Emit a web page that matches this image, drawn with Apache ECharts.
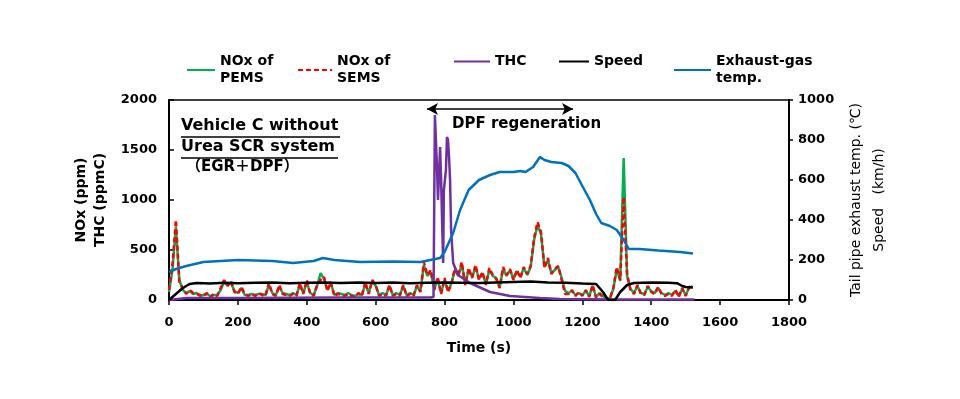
<!DOCTYPE html>
<html>
<head>
<meta charset="utf-8">
<script src="https://cdn.jsdelivr.net/npm/echarts@6/dist/echarts.min.js"></script>
<style>
  html, body { margin: 0; padding: 0; background: #fff; }
  #chart { width: 960px; height: 399px; }
</style>
</head>
<body>
<div id="chart"></div>
<script>
// NOx sampled every 10 s (0 .. 1520 s)
const noxTime = Array.from({ length: 153 }, (_, i) => i * 10);
const noxPems = [
  80, 300, 730, 200, 100, 70, 90, 60, 70, 40,
  50, 60, 40, 50, 50, 100, 180, 150, 170, 90,
  70, 120, 50, 50, 60, 50, 60, 60, 50, 150,
  70, 50, 130, 70, 60, 50, 70, 50, 150, 70,
  180, 70, 50, 140, 270, 210, 100, 170, 50, 70,
  60, 50, 70, 50, 40, 60, 50, 160, 70, 190,
  140, 50, 70, 50, 140, 50, 70, 50, 140, 50,
  70, 50, 140, 90, 350, 240, 280, 110, 210, 70,
  200, 90, 170, 300, 240, 360, 160, 300, 230, 330,
  210, 270, 160, 300, 240, 220, 130, 310, 240, 300,
  210, 290, 230, 320, 250, 330, 600, 750, 660, 330,
  400, 270, 300, 330, 220, 90, 70, 90, 50, 70,
  50, 90, 40, 140, 30, 70, 40, 10, 20, 110,
  310, 190, 1420, 240, 110, 70, 140, 70, 60, 130,
  90, 70, 120, 70, 50, 70, 50, 90, 40, 110,
  50, 120, 140
];
const noxSems = [
  100, 350, 800, 180, 120, 60, 100, 70, 60, 50,
  40, 70, 30, 60, 40, 120, 200, 140, 190, 80,
  60, 130, 60, 40, 60, 40, 70, 50, 40, 170,
  60, 40, 150, 60, 50, 40, 60, 40, 170, 60,
  200, 60, 40, 150, 200, 230, 90, 180, 40, 60,
  50, 40, 60, 40, 30, 70, 40, 180, 60, 200,
  150, 40, 60, 40, 150, 40, 60, 40, 150, 40,
  60, 40, 150, 80, 380, 250, 300, 100, 230, 60,
  220, 80, 160, 320, 250, 380, 150, 320, 220, 350,
  200, 280, 150, 320, 250, 210, 120, 330, 250, 310,
  200, 300, 220, 330, 260, 340, 620, 780, 680, 320,
  420, 260, 310, 340, 200, 60, 60, 100, 40, 80,
  40, 100, 30, 150, 20, 60, 30, 0, 10, 120,
  330, 200, 1030, 250, 100, 60, 150, 60, 50, 140,
  80, 60, 130, 60, 40, 60, 40, 100, 30, 120,
  40, 130, 150
];

// THC (ppmC)
const thcTime = [0, 50, 200, 500, 760, 768, 772, 778, 781, 787, 790, 793, 796, 798, 804, 807, 810, 813, 816, 819, 825, 839, 874, 932, 990, 1077, 1135, 1300, 1525];
const thcVal = [0, 20, 20, 25, 25, 30, 1850, 1330, 1000, 1530, 1200, 770, 370, 1100, 1300, 1630, 1600, 1430, 1200, 700, 370, 250, 170, 80, 40, 20, 10, 5, 5];

// Speed (km/h), right axis
const speedTime = [0, 20, 40, 60, 80, 120, 160, 200, 250, 300, 350, 400, 450, 500, 550, 600, 650, 700, 750, 800, 850, 900, 950, 1000, 1050, 1100, 1150, 1200, 1240, 1260, 1275, 1295, 1310, 1330, 1350, 1400, 1450, 1475, 1490, 1500, 1521];
const speedVal = [0, 30, 60, 80, 85, 83, 86, 84, 86, 88, 84, 86, 88, 85, 87, 85, 87, 84, 86, 88, 86, 85, 88, 90, 92, 88, 86, 82, 80, 40, 0, 0, 40, 75, 85, 88, 86, 84, 70, 65, 62];

// Exhaust-gas temperature (degC), right axis
const tempTime = [0, 20, 50, 100, 200, 250, 300, 360, 420, 447, 480, 555, 650, 730, 787, 800, 825, 845, 870, 900, 932, 960, 1000, 1020, 1035, 1057, 1077, 1090, 1110, 1140, 1160, 1180, 1200, 1222, 1240, 1255, 1280, 1300, 1320, 1335, 1367, 1420, 1484, 1521];
const tempVal = [140, 155, 170, 190, 200, 198, 195, 185, 195, 210, 200, 190, 192, 190, 210, 240, 335, 450, 550, 600, 625, 640, 640, 645, 640, 665, 715, 700, 690, 685, 670, 635, 570, 500, 430, 385, 370, 350, 300, 255, 255, 248, 240, 233];

const pairs = (xs, ys) => xs.map((x, i) => [x, ys[i]]);

const FONT = 'DejaVu Sans, Noto Sans CJK JP, sans-serif';
const chart = echarts.init(document.getElementById('chart'));

// one legend per item so each sits where the original puts it
const legendAt = (name, left, width) => ({
  data: [name],
  left: left,
  top: 53,
  itemWidth: width,
  itemHeight: 14,
  itemGap: 0,
  padding: 0,
  selectedMode: false,
  itemStyle: { opacity: 0, borderWidth: 0 },
  textStyle: { fontFamily: FONT, fontWeight: 'bold', fontSize: 14, color: '#000', lineHeight: 17 }
});

const plain = v => String(v);

const option = {
  animation: false,
  backgroundColor: '#fff',
  grid: { left: 169, right: 171, top: 100, bottom: 99, show: true, borderColor: '#000', borderWidth: 1.5, backgroundColor: 'transparent' },
  legend: [
    legendAt('NOx of\nPEMS', 186, 28),
    legendAt('NOx of\nSEMS', 297, 34),
    legendAt('THC', 453, 36),
    legendAt('Speed', 558, 30),
    legendAt('Exhaust-gas\ntemp.', 673, 37)
  ],
  xAxis: {
    type: 'value', min: 0, max: 1800, interval: 200,
    name: 'Time (s)', nameLocation: 'middle', nameGap: 41,
    nameTextStyle: { fontFamily: FONT, fontWeight: 'bold', fontSize: 14, color: '#000' },
    axisLine: { lineStyle: { color: '#000', width: 2 } },
    axisTick: { show: true, inside: false, length: 5, lineStyle: { color: '#000', width: 1.5 } },
    axisLabel: { fontFamily: FONT, fontWeight: 'bold', fontSize: 13, color: '#000', margin: 16, formatter: plain },
    splitLine: { show: false }
  },
  yAxis: [
    {
      type: 'value', min: 0, max: 2000, interval: 500, position: 'left',
      name: 'NOx (ppm)\nTHC (ppmC)', nameLocation: 'middle', nameGap: 39,
      nameTextStyle: { fontFamily: FONT, fontWeight: 'bold', fontSize: 14, color: '#000', lineHeight: 19 },
      axisLine: { show: true, lineStyle: { color: '#000', width: 2 } },
      axisTick: { show: true, inside: true, length: 5, lineStyle: { color: '#000', width: 1.5 } },
      axisLabel: { fontFamily: FONT, fontWeight: 'bold', fontSize: 13, color: '#000', margin: 12, formatter: plain },
      splitLine: { show: false }
    },
    {
      type: 'value', min: 0, max: 1000, interval: 200, position: 'right',
      name: 'Tail pipe exhaust temp. (\u2103)\nSpeed   (km/h)', nameLocation: 'middle', nameGap: 48,
      nameTextStyle: { fontFamily: FONT, fontSize: 14, color: '#000', lineHeight: 23 },
      axisLine: { show: true, lineStyle: { color: '#000', width: 2 } },
      axisTick: { show: true, inside: false, length: 4, lineStyle: { color: '#000', width: 1.5 } },
      axisLabel: { fontFamily: FONT, fontWeight: 'bold', fontSize: 13, color: '#000', margin: 9, formatter: plain },
      splitLine: { show: false }
    }
  ],
  series: [
    {
      name: 'NOx of\nPEMS', type: 'line', yAxisIndex: 0, symbol: 'none',
      data: pairs(noxTime, noxPems),
      lineStyle: { color: '#00B050', width: 2.5 }, itemStyle: { color: '#00B050' }
    },
    {
      name: 'NOx of\nSEMS', type: 'line', yAxisIndex: 0, symbol: 'none',
      data: pairs(noxTime, noxSems),
      lineStyle: { color: '#FF0000', width: 2.5, type: [5, 3] }, itemStyle: { color: '#FF0000' }
    },
    {
      name: 'THC', type: 'line', yAxisIndex: 0, symbol: 'none',
      data: pairs(thcTime, thcVal),
      lineStyle: { color: '#7030A0', width: 2.5 }, itemStyle: { color: '#7030A0' },
      markLine: {
        silent: true, symbol: ['arrow', 'arrow'], symbolSize: [9, 11],
        label: { show: false },
        lineStyle: { color: '#000', width: 1.5, type: 'solid' },
        data: [[{ coord: [749, 1910] }, { coord: [1173, 1910] }]]
      }
    },
    {
      name: 'Speed', type: 'line', yAxisIndex: 1, symbol: 'none',
      data: pairs(speedTime, speedVal),
      lineStyle: { color: '#000', width: 2.5 }, itemStyle: { color: '#000' }
    },
    {
      name: 'Exhaust-gas\ntemp.', type: 'line', yAxisIndex: 1, symbol: 'none',
      data: pairs(tempTime, tempVal),
      lineStyle: { color: '#0070C0', width: 2.5 }, itemStyle: { color: '#0070C0' }
    }
  ],
  graphic: [
    { type: 'text', left: 181, top: 118, style: { text: 'Vehicle C without', font: 'bold 16px ' + FONT, fill: '#000' } },
    { type: 'line', shape: { x1: 181, y1: 137, x2: 340, y2: 137 }, style: { stroke: '#000', lineWidth: 1.5 } },
    { type: 'text', left: 181, top: 139, style: { text: 'Urea SCR system', font: 'bold 16px ' + FONT, fill: '#000' } },
    { type: 'line', shape: { x1: 181, y1: 158, x2: 338, y2: 158 }, style: { stroke: '#000', lineWidth: 1.5 } },
    { type: 'text', left: 186, top: 160, style: { text: '\uff08EGR\uff0bDPF\uff09', font: 'bold 15px ' + FONT, fill: '#000' } },
    { type: 'text', left: 452, top: 117, style: { text: 'DPF regeneration', font: 'bold 15px ' + FONT, fill: '#000' } }
  ]
};

chart.setOption(option);
</script>
</body>
</html>
